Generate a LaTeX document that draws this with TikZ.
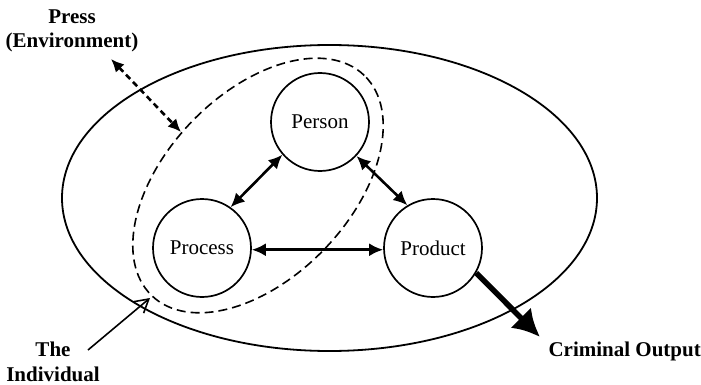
\documentclass[tikz,border=0pt]{standalone}
\usepackage{fontspec}
\setmainfont{Liberation Serif}
\usetikzlibrary{arrows,shapes.geometric}
\usepgflibrary{arrows.meta}

\begin{document}
\begin{tikzpicture}[x=1pt,y=-1pt,
        every node/.style={font=\fontsize{21}{24}\selectfont},
        ball/.style={draw,circle,line width=1.7pt,minimum size=98pt,inner sep=0pt},
        link/.style={line width=2.6pt,{Latex[length=14pt,width=13pt]}-{Latex[length=14pt,width=13pt]}},
        boldtxt/.style={font=\fontsize{21}{24.5}\selectfont\bfseries,align=center}]
        \useasboundingbox (0,0) rectangle (701,385);
        %环境
        \node[draw,ellipse,line width=1.8pt,minimum width=535pt,minimum height=306pt,inner sep=0pt] (env) at (329.5,198) {};
        %个体
        \node[draw,ellipse,dash pattern=on 9pt off 5pt,line width=1.6pt,rotate=46,minimum width=306pt,minimum height=184pt,inner sep=0pt] (indiv) at (258,185.5) {};
        %三个圆
        \node[ball] (person) at (320,122) {Person};
        \node[ball] (process) at (202,248) {Process};
        \node[ball] (product) at (433,248) {Product};
        \draw[link] (person.-139) -- (process.55);
        \draw[link] (person.-43) -- (product.121);
        \draw[link] (process.-2) -- (product.182);
        %输出
        \coordinate (out) at (540,337);
        \draw[line width=5.5pt,-{Latex[length=27pt,width=29pt]}] (product.-30) -- (out);
        \node[boldtxt,anchor=west] (crim) at (545,351) {Criminal Output};
        %文字
        \node[boldtxt] (press) at (72,31) {Press\\(Environment)};
        \node[boldtxt] (who) at (53,362) {The\\Individual};
        \coordinate (p1) at (111,59);
        \coordinate (p2) at (181,132);
        \draw[line width=2.6pt,dash pattern=on 6pt off 4pt,{Latex[length=13pt,width=12pt]}-{Latex[length=13pt,width=12pt]}] (p1) -- (p2);
        \coordinate (w1) at (88,350);
        \coordinate (w2) at (150,298);
        \draw[line width=1.6pt,-{Straight Barb[length=13pt,width=15pt]}] (w1) -- (w2);
    \end{tikzpicture}
\end{document}
